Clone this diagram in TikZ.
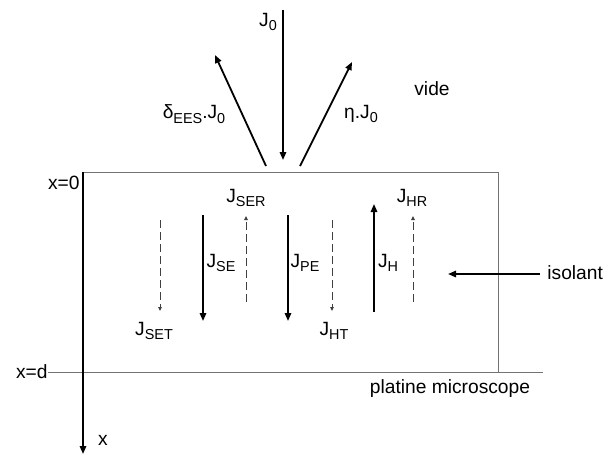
\documentclass[tikz,border=0pt]{standalone}
\usepackage{fontspec}
\setmainfont{Liberation Sans}
\usetikzlibrary{arrows.meta,positioning}

\newcommand{\flx}[1]{J\raisebox{-0.45ex}{\fontsize{7.2}{8}\selectfont #1}}
\newcommand{\sbs}[1]{\raisebox{-0.45ex}{\fontsize{7.2}{8}\selectfont #1}}

\begin{document}
\begin{tikzpicture}[x=0.5pt,y=-0.5pt,
  >={Triangle[length=4pt,width=3.2pt]},
  flux/.style={->,line width=0.9pt},
  fluxd/.style={-{Triangle[length=2pt,width=1.8pt]},dashed,dash pattern=on 4pt off 2pt,
    black!75,line width=0.5pt},
  bord/.style={black!55,line width=0.5pt},
  lbl/.style={font=\fontsize{9.6}{11}\selectfont,inner sep=0pt}]

\useasboundingbox (0,0) rectangle (609,455);

%% Sample (isolant) and microscope stage
\coordinate (TL) at (83,172);
\coordinate (TR) at (498,172);
\coordinate (BR) at (498,372);
\coordinate (D0) at (48,372);
\coordinate (D1) at (543,372);
\draw[bord] (TL) -- (TR) -- (BR);
\draw[bord] (D0) -- (D1);

%% x axis
\coordinate (X1) at (83,454);
\draw[flux] (TL) -- (X1);
\node[lbl] (x) at (103,440) {x};
\node[lbl,anchor=east] (x0) at (80,183) {x=0};
\node[lbl,anchor=east] (xd) at (D0) {x=d};
\node[lbl] (platine) at (450,389) {platine microscope};
\node[lbl] (vide) at (432,89) {vide};

%% Incident and emitted beams (vacuum side)
\coordinate (P0) at (283,10);
\coordinate (P1) at (283,160);
\coordinate (E0) at (266,166);
\coordinate (E1) at (215,55);
\coordinate (R0) at (300,166);
\coordinate (R1) at (352,62);
\draw[flux] (P0) -- (P1);
\draw[flux] (E0) -- (E1);
\draw[flux] (R0) -- (R1);
\node[lbl] (J0) at (268,22) {\flx{0}};
\node[lbl] (dJ0) at (194,114) {δ\sbs{EES}.\flx{0}};
\node[lbl] (eJ0) at (361,114) {η.\flx{0}};

%% Currents inside the insulator
\coordinate (SET0) at (160,220);  \coordinate (SET1) at (160,311);
\coordinate (SE0)  at (203,215);  \coordinate (SE1)  at (203,321);
\coordinate (SER0) at (246,302);  \coordinate (SER1) at (246,216);
\coordinate (PE0)  at (288,215);  \coordinate (PE1)  at (288,321);
\coordinate (HT0)  at (332,220);  \coordinate (HT1)  at (332,311);
\coordinate (H0)   at (374,312);  \coordinate (H1)   at (374,204);
\coordinate (HR0)  at (413,302);  \coordinate (HR1)  at (413,216);

\draw[fluxd] (SET0) -- (SET1);
\draw[flux]  (SE0)  -- (SE1);
\draw[fluxd] (SER0) -- (SER1);
\draw[flux]  (PE0)  -- (PE1);
\draw[fluxd] (HT0)  -- (HT1);
\draw[flux]  (H0)   -- (H1);
\draw[fluxd] (HR0)  -- (HR1);

\node[lbl] (lSET) at (154,331) {\flx{SET}};
\node[lbl] (lSE)  at (221,263) {\flx{SE}};
\node[lbl] (lSER) at (246,198) {\flx{SER}};
\node[lbl] (lPE)  at (305,263) {\flx{PE}};
\node[lbl] (lHT)  at (334,331) {\flx{HT}};
\node[lbl] (lH)   at (388,263) {\flx{H}};
\node[lbl] (lHR)  at (412,198) {\flx{HR}};

%% isolant pointer
\node[lbl,anchor=west] (iso) at (547,273) {isolant};
\coordinate (I1) at (448,274);
\draw[flux] (iso.west) ++(-7,1) -- (I1);

\end{tikzpicture}
\end{document}
